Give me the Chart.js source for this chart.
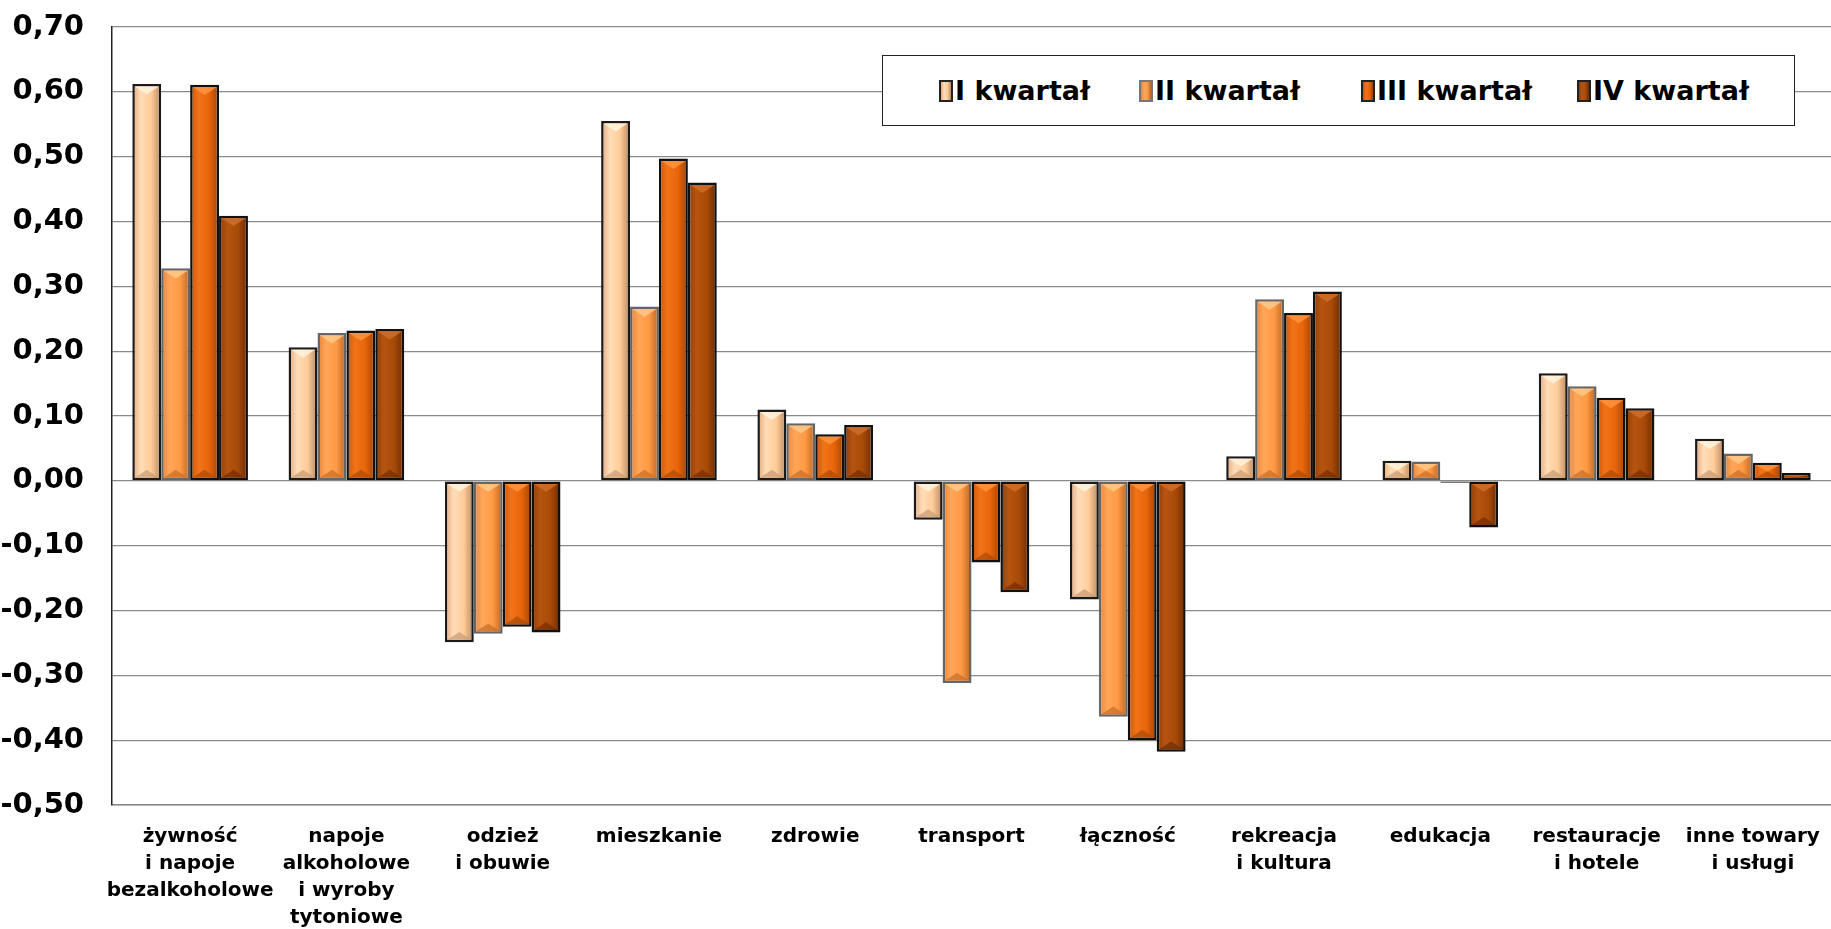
<!DOCTYPE html>
<html>
<head>
<meta charset="utf-8">
<script src="https://cdn.jsdelivr.net/npm/chart.js@4/dist/chart.umd.min.js"></script>
<style>
  html, body { margin: 0; padding: 0; background: #fff; }
  #wrap { position: relative; width: 1831px; height: 929px; overflow: hidden; }
  #legend {
    position: absolute; left: 882px; top: 55px; width: 911px; height: 69px;
    border: 1.5px solid #222; background: #fff; box-sizing: content-box;
    font-family: "DejaVu Sans", Verdana, sans-serif;
    font-weight: bold; font-size: 27px; color: #000;
  }
  .item { position: absolute; top: 0; height: 69px; display: flex; align-items: center; white-space: nowrap; }
  .mk { width: 10px; height: 18px; border: 2px solid #222; margin-right: 2px; box-sizing: content-box; }
</style>
</head>
<body>
<div id="wrap">
  <canvas id="c" width="1831" height="929"></canvas>
  <div id="legend"></div>
</div>
<script>
const categories = [
  ["żywność", "i napoje", "bezalkoholowe"],
  ["napoje", "alkoholowe", "i wyroby", "tytoniowe"],
  ["odzież", "i obuwie"],
  "mieszkanie",
  "zdrowie",
  "transport",
  "łączność",
  ["rekreacja", "i kultura"],
  "edukacja",
  ["restauracje", "i hotele"],
  ["inne towary", "i usługi"]
];
const seriesNames = ["I kwartał", "II kwartał", "III kwartał", "IV kwartał"];
const q1 = [0.612, 0.206, -0.249, 0.555, 0.110, -0.060, -0.183, 0.038, 0.031, 0.166, 0.065];
const q2 = [0.328, 0.228, -0.236, 0.269, 0.089, -0.312, -0.364, 0.280, 0.030, 0.146, 0.042];
const q3 = [0.611, 0.232, -0.225, 0.497, 0.072, -0.126, -0.400, 0.259, -0.003, 0.128, 0.028];
const q4 = [0.409, 0.234, -0.234, 0.460, 0.086, -0.172, -0.418, 0.292, -0.072, 0.112, 0.012];
const yTicks = [0.7, 0.6, 0.5, 0.4, 0.3, 0.2, 0.1, 0.0, -0.1, -0.2, -0.3, -0.4, -0.5];

const palettes = [
  { edge: "#E3A77A", light: "#FFDDB8", main: "#FFCC99", dark: "#B88860", top: "#FFF3DD", bot: "#C79A74", border: "#1a1a1a" },
  { edge: "#E7843A", light: "#FFA658", main: "#FF9A45", dark: "#B86525", top: "#FFC98A", bot: "#C46C2A", border: "#666666" },
  { edge: "#C9560A", light: "#F27318", main: "#E8650A", dark: "#9E4306", top: "#FF9440", bot: "#A84A08", border: "#111111" },
  { edge: "#8E3E06", light: "#B65410", main: "#A84A08", dark: "#6A2B03", top: "#CF6E2A", bot: "#6E2E04", border: "#111111" }
];
const seriesData = [q1, q2, q3, q4];

function gradFor(ctx, pal) {
  const el = ctx.element;
  if (!el || !isFinite(el.x) || !isFinite(el.width) || !el.width) return pal.main;
  const c = ctx.chart.ctx;
  const l = el.x - el.width / 2, r = el.x + el.width / 2;
  const g = c.createLinearGradient(l, 0, r, 0);
  g.addColorStop(0, pal.edge);
  g.addColorStop(0.3, pal.light);
  g.addColorStop(0.65, pal.main);
  g.addColorStop(1, pal.dark);
  return g;
}

const datasets = seriesData.map((d, i) => ({
  label: seriesNames[i],
  data: d,
  backgroundColor: (ctx) => gradFor(ctx, palettes[i]),
  borderColor: palettes[i].border,
  borderWidth: 2.5,
  borderSkipped: false,
  categoryPercentage: 0.74,
  barPercentage: 1.0
}));

const bevel = {
  id: "bevel",
  afterDatasetsDraw(chart) {
    const c = chart.ctx;
    chart.data.datasets.forEach((ds, di) => {
      const meta = chart.getDatasetMeta(di);
      const pal = palettes[di];
      meta.data.forEach((el) => {
        const w = el.width - 5, l = el.x - w / 2, r = el.x + w / 2;
        const top = Math.min(el.y, el.base) + 2.5, bot = Math.max(el.y, el.base) - 2.5;
        const h = Math.min(w * 0.33, (bot - top) / 2);
        if (h < 1) return;
        c.save();
        c.fillStyle = pal.top; c.globalAlpha = 0.85;
        c.beginPath(); c.moveTo(l, top); c.lineTo(r, top); c.lineTo(el.x, top + h); c.closePath(); c.fill();
        c.fillStyle = pal.bot; c.globalAlpha = 0.7;
        c.beginPath(); c.moveTo(l, bot); c.lineTo(r, bot); c.lineTo(el.x, bot - h); c.closePath(); c.fill();
        c.restore();
      });
    });
  }
};

const chart = new Chart(document.getElementById("c"), {
  type: "bar",
  data: { labels: categories, datasets },
  plugins: [bevel],
  options: {
    responsive: false,
    animation: false,
    layout: { padding: { top: 27, right: 0, left: 0, bottom: 0 } },
    plugins: { legend: { display: false }, tooltip: { enabled: false }, title: { display: false } },
    scales: {
      x: {
        grid: { display: false, drawTicks: false },
        border: { display: true, color: "#888", width: 1.5 },
        ticks: {
          color: "#000", padding: 18, maxRotation: 0, autoSkip: false,
          font: { family: "DejaVu Sans, Verdana, sans-serif", weight: "bold", size: 20, lineHeight: 1.35 }
        },
        afterFit: (s) => { s.height = 124; s.paddingLeft = 0; s.paddingRight = 0; }
      },
      y: {
        min: -0.5, max: 0.7,
        afterBuildTicks: (s) => { s.ticks = yTicks.map(v => ({ value: v })); },
        grid: { color: "#8a8a8a", lineWidth: 1.2, drawTicks: false },
        border: { display: true, color: "#222", width: 1.5 },
        ticks: {
          color: "#000", padding: 28,
          font: { family: "DejaVu Sans, Verdana, sans-serif", weight: "bold", size: 29 },
          callback: (v) => Number(v).toFixed(2).replace(".", ",")
        },
        afterFit: (s) => { s.width = 112; s.paddingTop = 0; s.paddingBottom = 0; }
      }
    }
  }
});
chart.update();

// legend
const lg = document.getElementById("legend");
const itemLeft = [56, 256, 478, 694];
seriesNames.forEach((n, i) => {
  const it = document.createElement("div");
  it.className = "item";
  it.style.left = itemLeft[i] + "px";
  const mk = document.createElement("span");
  mk.className = "mk";
  const p = palettes[i];
  mk.style.background = `linear-gradient(90deg, ${p.edge}, ${p.light} 30%, ${p.main} 65%, ${p.dark})`;
  mk.style.borderColor = i === 1 ? "#777" : "#222";
  const tx = document.createElement("span");
  tx.textContent = n;
  it.appendChild(mk); it.appendChild(tx);
  lg.appendChild(it);
});
</script>
</body>
</html>
